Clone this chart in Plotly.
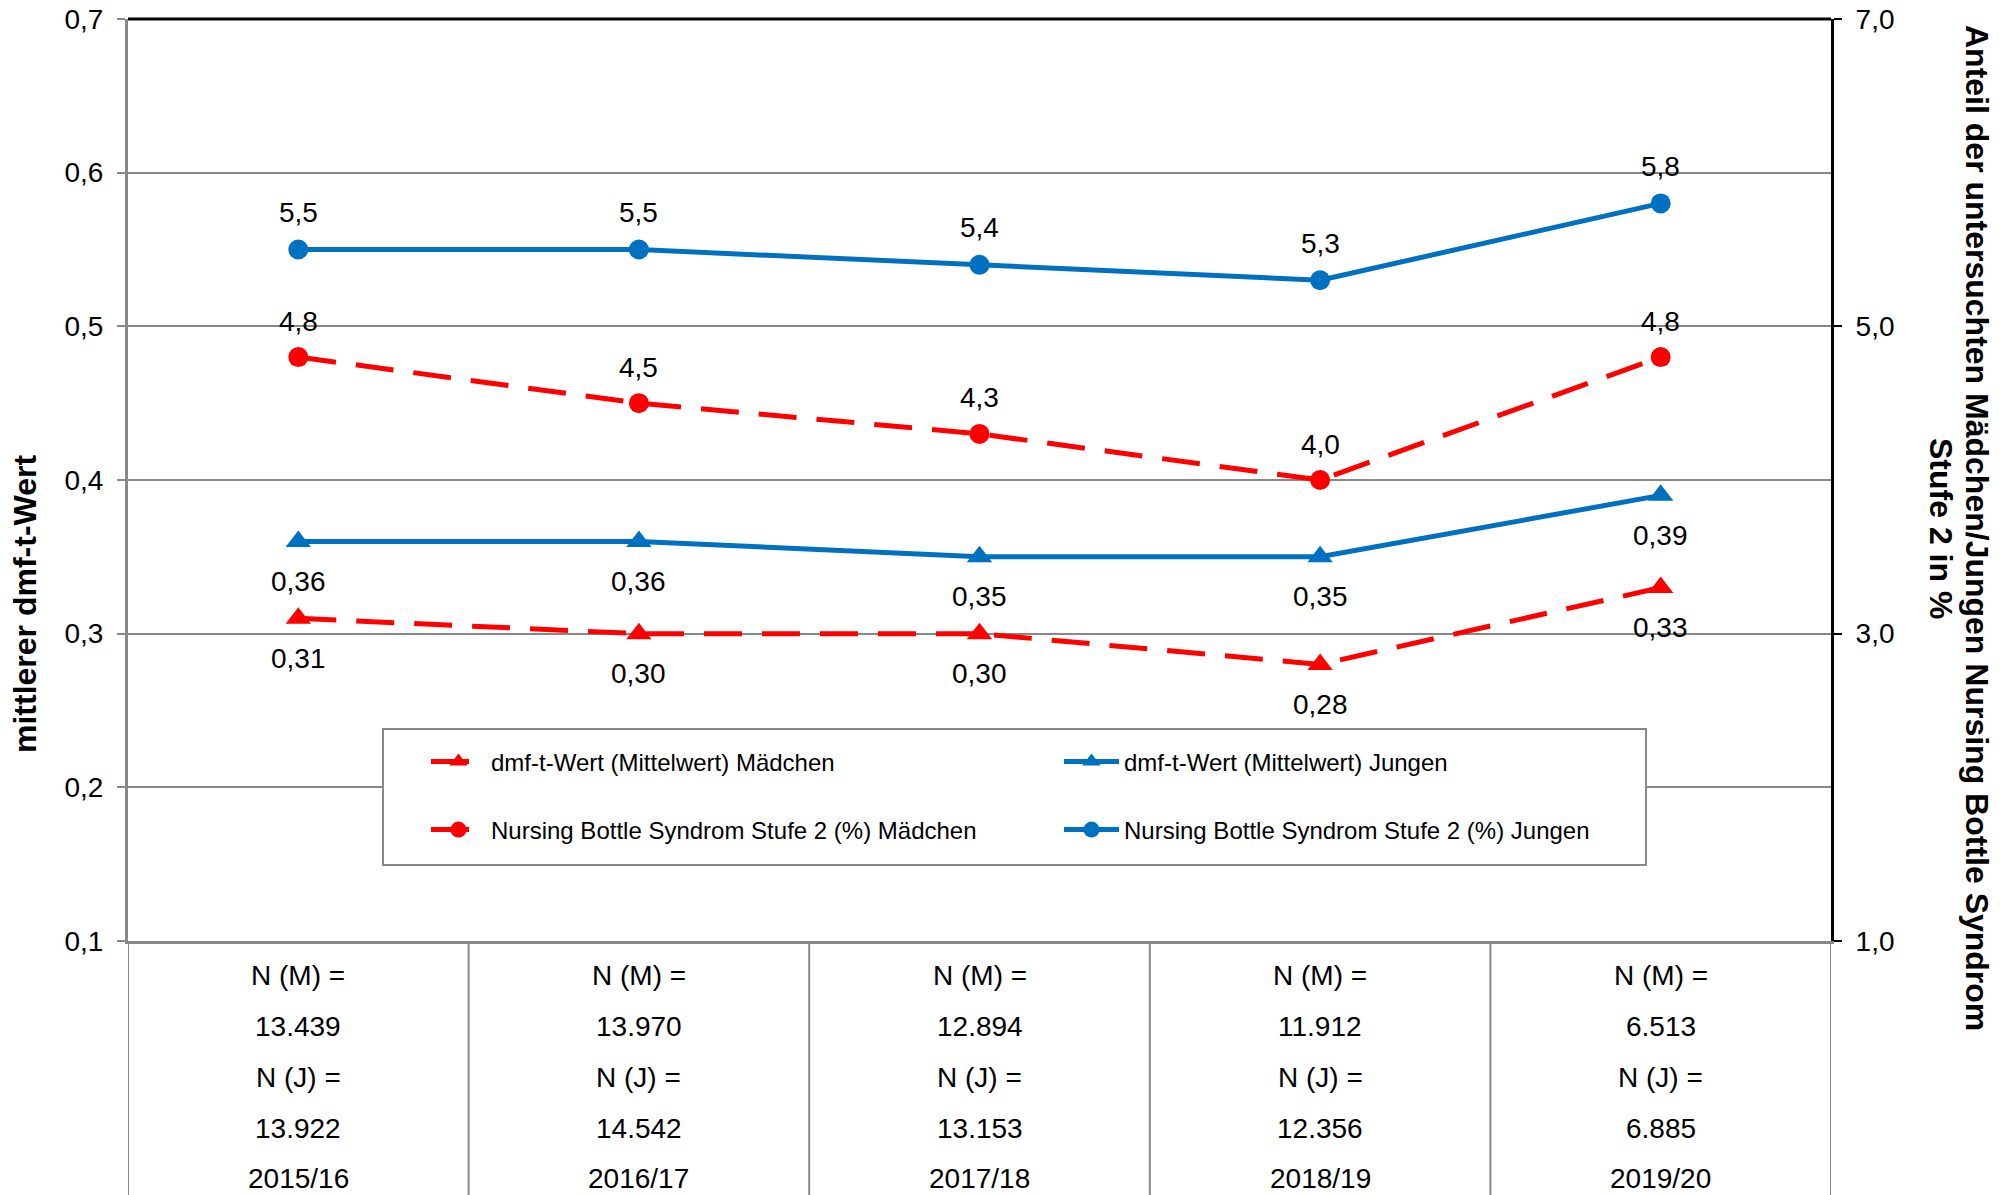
import plotly.graph_objects as go

# ---- data ----
seasons = ["2015/16", "2016/17", "2017/18", "2018/19", "2019/20"]
n_maedchen = [13439, 13970, 12894, 11912, 6513]
n_jungen = [13922, 14542, 13153, 12356, 6885]
dmf_maedchen = [0.31, 0.30, 0.30, 0.28, 0.33]
dmf_jungen = [0.36, 0.36, 0.35, 0.35, 0.39]
nbs_maedchen = [4.8, 4.5, 4.3, 4.0, 4.8]
nbs_jungen = [5.5, 5.5, 5.4, 5.3, 5.8]

left_ticks = [0.1, 0.2, 0.3, 0.4, 0.5, 0.6, 0.7]
right_ticks = [1.0, 3.0, 5.0, 7.0]

RED = "#FF0000"
BLUE = "#0070C0"
GREY = "#888888"
FONT = "Arial, Liberation Sans, sans-serif"

W, H = 2015, 1195
L, R, T, B = 128, 184, 19, 254
PW, PH = W - L - R, H - T - B

def de(v, d):
    return f"{v:.{d}f}".replace(".", ",")

def thousands(n):
    return f"{n:,}".replace(",", ".")

x = list(range(len(seasons)))
fig = go.Figure()

dash = "38px,20px"
fig.add_trace(go.Scatter(x=x, y=dmf_maedchen, name="dmf-t-Wert (Mittelwert) Mädchen",
                         mode="lines+markers", line=dict(color=RED, width=5, dash=dash),
                         marker=dict(symbol="triangle-up", size=22, color=RED), legend="legend"))
fig.add_trace(go.Scatter(x=x, y=dmf_jungen, name="dmf-t-Wert (Mittelwert) Jungen",
                         mode="lines+markers", line=dict(color=BLUE, width=5),
                         marker=dict(symbol="triangle-up", size=22, color=BLUE), legend="legend"))
fig.add_trace(go.Scatter(x=x, y=nbs_maedchen, name="Nursing Bottle Syndrom Stufe 2 (%) Mädchen",
                         mode="lines+markers", line=dict(color=RED, width=5, dash=dash),
                         marker=dict(symbol="circle", size=20, color=RED), yaxis="y2", legend="legend2"))
fig.add_trace(go.Scatter(x=x, y=nbs_jungen, name="Nursing Bottle Syndrom Stufe 2 (%) Jungen",
                         mode="lines+markers", line=dict(color=BLUE, width=5),
                         marker=dict(symbol="circle", size=20, color=BLUE), yaxis="y2", legend="legend2"))

LBL = dict(size=28, color="black", family=FONT)
ann = []
# data labels
for i in x:
    ann.append(dict(x=i, y=dmf_maedchen[i], yref="y", xref="x", text=de(dmf_maedchen[i], 2),
                    showarrow=False, yshift=-40, font=LBL))
    ann.append(dict(x=i, y=dmf_jungen[i], yref="y", xref="x", text=de(dmf_jungen[i], 2),
                    showarrow=False, yshift=-40, font=LBL))
    ann.append(dict(x=i, y=nbs_maedchen[i], yref="y2", xref="x", text=de(nbs_maedchen[i], 1),
                    showarrow=False, yshift=36, font=LBL))
    ann.append(dict(x=i, y=nbs_jungen[i], yref="y2", xref="x", text=de(nbs_jungen[i], 1),
                    showarrow=False, yshift=37, font=LBL))

# table below plot
row_py = [975, 1026, 1077, 1128, 1178]
for i in x:
    rows = ["N (M) =", thousands(n_maedchen[i]), "N (J) =", thousands(n_jungen[i]), seasons[i]]
    for txt, py in zip(rows, row_py):
        ann.append(dict(x=i, xref="x", y=0, yref="paper", xanchor="center", yanchor="middle",
                        yshift=-(py - (H - B)), text=txt, showarrow=False, font=LBL))

# axis titles
TF = dict(size=32, color="black", family=FONT)
ann.append(dict(x=(25 - L) / PW, xref="paper", y=(H - B - 604) / PH, yref="paper",
                xanchor="center", yanchor="middle",
                text="<b>mittlerer dmf-t-Wert</b>", textangle=-90, showarrow=False, font=TF))
ann.append(dict(x=(1977 - L) / PW, xref="paper", y=(H - B - 528) / PH, yref="paper",
                xanchor="center", yanchor="middle",
                text="<b>Anteil der untersuchten Mädchen/Jungen Nursing Bottle Syndrom</b>",
                textangle=90, showarrow=False, font=TF))
ann.append(dict(x=(1941 - L) / PW, xref="paper", y=(H - B - 529) / PH, yref="paper",
                xanchor="center", yanchor="middle",
                text="<b>Stufe 2 in %</b>", textangle=90, showarrow=False, font=TF))

shapes = []
# table vertical lines
for k in range(len(seasons) + 1):
    shapes.append(dict(type="line", xref="x", x0=k - 0.5, x1=k - 0.5, yref="paper",
                       y0=0, y1=-B / PH, line=dict(color=GREY, width=2), layer="above"))
# top border
shapes.append(dict(type="line", xref="paper", x0=0, x1=1, yref="paper", y0=1, y1=1,
                   line=dict(color="black", width=3), layer="above"))
# legend box
lx0, lx1, ly0, ly1 = 383, 1646, 729, 865
shapes.append(dict(type="rect", xref="paper", yref="paper",
                   x0=(lx0 - L) / PW, x1=(lx1 - L) / PW,
                   y0=(H - B - ly1) / PH, y1=(H - B - ly0) / PH,
                   fillcolor="white", line=dict(color=GREY, width=2), layer="above"))

leg_common = dict(orientation="h", xanchor="left", yanchor="middle",
                  bgcolor="rgba(0,0,0,0)", borderwidth=0,
                  font=dict(size=24, color="black", family=FONT),
                  itemwidth=55,
                  entrywidth=563, entrywidthmode="pixels")

fig.update_layout(
    width=W, height=H, autosize=False,
    margin=dict(l=L, r=R, t=T, b=B, autoexpand=False),
    plot_bgcolor="white", paper_bgcolor="white",
    separators=",.",
    font=dict(family=FONT, size=28, color="black"),
    xaxis=dict(range=[-0.5, len(seasons) - 0.5], showticklabels=False, ticks="",
               automargin=False,
               showgrid=False, zeroline=False, showline=True, linecolor=GREY, linewidth=3),
    yaxis=dict(range=[0.1, 0.7], tickvals=left_ticks, tickformat=".1f", automargin=False,
               showgrid=True, gridcolor=GREY, gridwidth=2, zeroline=False,
               showline=True, linecolor=GREY, linewidth=3,
               ticks="outside", ticklen=8, tickwidth=2, tickcolor=GREY,
               ticklabelstandoff=8,
               tickfont=dict(size=28, color="black", family=FONT)),
    yaxis2=dict(range=[1, 7], tickvals=right_ticks, tickformat=".1f", overlaying="y", side="right",
                automargin=False,
                showgrid=False, zeroline=False, showline=True, linecolor="black", linewidth=3,
                ticks="outside", ticklen=8, tickwidth=2, tickcolor="black",
                ticklabelstandoff=8,
                tickfont=dict(size=28, color="black", family=FONT)),
    legend=dict(x=(426 - L) / PW, y=(H - B - 762) / PH, **leg_common),
    legend2=dict(x=(426 - L) / PW, y=(H - B - 830) / PH, **leg_common),
    annotations=ann,
    shapes=shapes,
)

post = ("document.documentElement.style.margin='0';document.body.style.margin='0';"
        "document.body.style.padding='0';document.body.style.overflow='hidden';"
        "var gd=document.getElementById('{plot_id}');gd.style.position='absolute';"
        "gd.style.left='0px';gd.style.top='0px';")
fig.write_html("out.html", post_script=post, config={"displayModeBar": False})
